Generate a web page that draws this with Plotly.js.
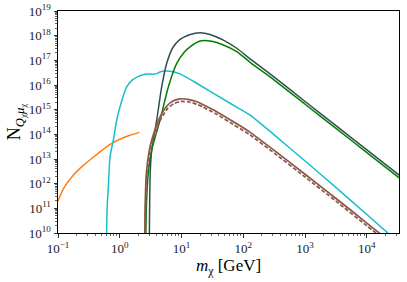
<!DOCTYPE html>
<html>
<head>
<meta charset="utf-8">
<script src="https://cdn.plot.ly/plotly-3.0.1.min.js"></script>
<style>html,body{margin:0;padding:0;background:#fff;}#chart{width:407px;height:282px;}</style>
</head>
<body>
<div id="chart"></div>
<script>
// Values are log10 of m_chi [GeV] and log10 of N
var orangeLogM = [-1, -0.9, -0.75, -0.6, -0.45, -0.3, -0.15, 0, 0.15, 0.317];
var orangeLogN = [11.3, 11.85, 12.35, 12.72, 13.03, 13.33, 13.6, 13.8, 13.95, 14.08];

var cyanLogM = [-0.215, -0.205, -0.185, -0.158, -0.104, -0.049, 0.031, 0.112, 0.2, 0.3, 0.409, 0.55, 0.6, 0.65, 0.733, 0.867, 0.976, 1.246, 1.785, 2.109, 2.5, 3.0, 3.46, 4.0, 4.36];
var cyanLogN = [9.5, 11.0, 11.88, 13.09, 13.77, 14.58, 15.35, 15.92, 16.2, 16.35, 16.44, 16.44, 16.46, 16.53, 16.57, 16.54, 16.45, 16.07, 15.26, 14.78, 13.98, 12.92, 11.93, 10.75, 9.95];

var slateLogM = [0.478, 0.483, 0.492, 0.517, 0.598, 0.679, 0.760, 0.867, 0.976, 1.13, 1.3, 1.462, 1.677, 1.894, 2.12, 2.5, 3.0, 3.5, 4.0, 4.53];
var slateLogN = [9.5, 11.0, 12.4, 13.36, 14.58, 15.93, 16.88, 17.55, 17.85, 18.04, 18.12, 18.05, 17.82, 17.49, 17.04, 16.32, 15.33, 14.35, 13.37, 12.33];

var greenLogM = [0.42, 0.43, 0.46, 0.517, 0.652, 0.787, 0.922, 1.05, 1.138, 1.3, 1.462, 1.677, 1.894, 2.11, 2.5, 3.0, 3.5, 4.0, 4.53];
var greenLogN = [9.5, 11.0, 12.4, 13.36, 14.58, 15.93, 16.88, 17.35, 17.55, 17.78, 17.78, 17.62, 17.35, 16.92, 16.2, 15.22, 14.24, 13.26, 12.22];

var brownLogM = [0.405, 0.41, 0.43, 0.49, 0.571, 0.652, 0.76, 0.867, 0.976, 1.1, 1.25, 1.35, 1.57, 1.839, 2.1, 2.5, 3.0, 3.5, 4.0, 4.25];
var brownLogN = [9.5, 11.0, 12.4, 13.5, 14.2, 14.71, 15.14, 15.36, 15.44, 15.42, 15.32, 15.2, 14.92, 14.51, 14.1, 13.35, 12.38, 11.4, 10.4, 9.9];

var brownDashLogM = [0.412, 0.418, 0.44, 0.5, 0.58, 0.66, 0.77, 0.877, 0.986, 1.1, 1.25, 1.35, 1.57, 1.839, 2.1, 2.5, 3.0, 3.5, 4.0, 4.2];
var brownDashLogN = [9.5, 11.0, 12.4, 13.4, 14.1, 14.6, 15.03, 15.25, 15.33, 15.32, 15.22, 15.1, 14.81, 14.4, 13.99, 13.24, 12.27, 11.29, 10.29, 9.9];

// tick decades
var xDecades = [-1, 0, 1, 2, 3, 4];
var yDecades = [10, 11, 12, 13, 14, 15, 16, 17, 18, 19];

function pw(a){ return a.map(function(v){ return Math.pow(10, v); }); }
function lab(a){ return a.map(function(v){ return '10<sup>' + String(v).replace('-', '\u2212') + '</sup>'; }); }
function minors(lo, hi){
  var out = [];
  for (var k = lo; k <= hi; k++) for (var d = 2; d <= 9; d++) out.push(d * Math.pow(10, k));
  return out;
}
function tr(lm, ln, color, dash, w){
  return {x: pw(lm), y: pw(ln), type: 'scatter', mode: 'lines',
    line: {color: color, width: w || 1.5, shape: 'spline', smoothing: 0.6, dash: dash || 'solid'},
    hoverinfo: 'skip', showlegend: false};
}
var data = [
  tr(orangeLogM, orangeLogN, '#ff7f0e'),
  tr(cyanLogM, cyanLogN, '#17becf'),
  tr(slateLogM, slateLogN, '#2f4f4f'),
  tr(greenLogM, greenLogN, '#008000'),
  tr(brownLogM, brownLogN, '#8c564b', 'solid', 1.7),
  tr(brownDashLogM, brownDashLogN, '#8c564b', '4px,2px', 1.7)
];
var F = 'Liberation Serif, DejaVu Serif, serif';
function axis(range, dec, lo, hi){
  return {type: 'log', range: range, tickmode: 'array', tickvals: pw(dec), ticktext: lab(dec),
    showline: true, mirror: true, linecolor: '#000', linewidth: 1,
    ticks: 'outside', ticklen: 3.5, tickwidth: 0.8, tickcolor: '#000',
    minor: {tickmode: 'array', tickvals: minors(lo, hi), ticks: 'outside', ticklen: 2, tickwidth: 0.6, tickcolor: '#000', showgrid: false},
    showgrid: false, zeroline: false,
    tickfont: {family: F, size: 13, color: '#222'}};
}
var xa = axis([-1, 4.52], xDecades, -1, 4);
xa.title = {text: '<i>m</i><sub>χ</sub> [GeV]', font: {family: F, size: 17, color: '#000'}, standoff: 4};
var ya = axis([10, 19], yDecades, 10, 18);
ya.title = {text: 'N<sub><i>Q</i><sub>χ</sub><i>μ</i><sub>χ</sub></sub>', font: {family: F, size: 18, color: '#000'}, standoff: 3};
var layout = {
  width: 407, height: 282,
  margin: {l: 58, r: 8, t: 11, b: 49},
  paper_bgcolor: '#fff', plot_bgcolor: '#fff',
  font: {family: F, color: '#000', size: 11},
  xaxis: xa, yaxis: ya
};
Plotly.newPlot('chart', data, layout, {staticPlot: true, displayModeBar: false});
</script>
</body>
</html>
